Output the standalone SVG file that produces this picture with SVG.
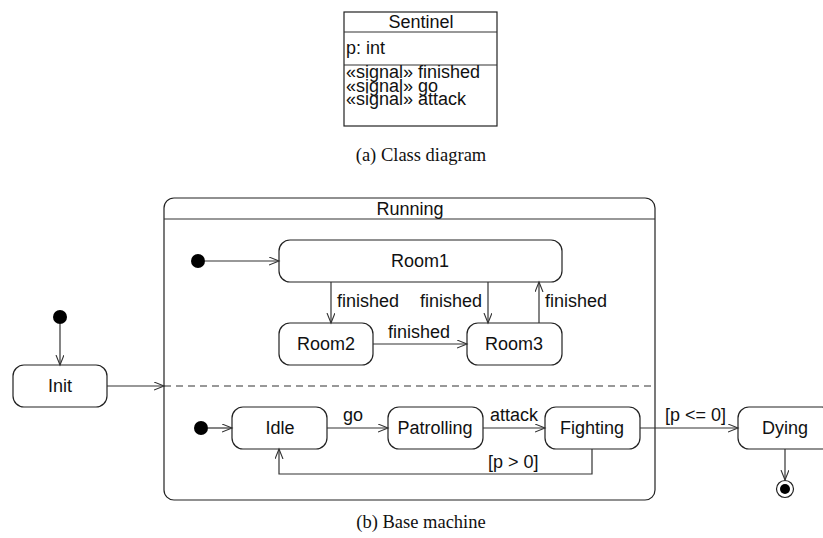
<svg xmlns="http://www.w3.org/2000/svg" width="823" height="538" viewBox="0 0 823 538">
  <style>
    .box { fill: #fff; stroke: #222; stroke-width: 1.2; }
    .line { fill: none; stroke: #333; stroke-width: 1.2; }
    .t { font-family: "Liberation Sans", Arial, sans-serif; font-size: 18px; fill: #111; }
    .mid { text-anchor: middle; }
    .end { text-anchor: end; }
    .cap { font-family: "Liberation Serif", "Times New Roman", serif; font-size: 18.5px; fill: #111; text-anchor: middle; }
    .dot { fill: #000; }
  </style>
  <defs>
    <marker id="open" markerWidth="12" markerHeight="10" refX="10" refY="4" orient="auto" markerUnits="userSpaceOnUse">
      <path d="M0,0 L10,4 L0,8" fill="none" stroke="#333" stroke-width="1.1"/>
    </marker>
  </defs>
  <rect width="823" height="538" fill="#fff"/>

  <!-- Class diagram -->
  <g id="sentinel">
    <rect class="box" x="344" y="12" width="153" height="114"/>
    <line class="line" x1="344" y1="32" x2="497" y2="32"/>
    <line class="line" x1="344" y1="65" x2="497" y2="65"/>
    <text class="t mid" x="421" y="28">Sentinel</text>
    <text class="t" x="346" y="54">p: int</text>
    <text class="t" x="346" y="78">«signal» finished</text>
    <text class="t" x="346" y="92">«signal» go</text>
    <text class="t" x="346" y="105">«signal» attack</text>
  </g>
  <text class="cap" x="421" y="161">(a) Class diagram</text>

  <!-- Composite state -->
  <g id="running">
    <rect class="box" x="164" y="198" width="491" height="302" rx="10"/>
    <line class="line" x1="164" y1="219" x2="655" y2="219"/>
    <line class="line" x1="164" y1="386" x2="655" y2="386" stroke-dasharray="7,5"/>
    <text class="t mid" x="410" y="215">Running</text>
  </g>

  <!-- Top region -->
  <g id="init1"><circle class="dot" cx="198" cy="261" r="7"/></g>
  <g id="room1">
    <rect class="box" x="279" y="240" width="283" height="42" rx="11"/>
    <text class="t mid" x="420" y="267">Room1</text>
  </g>
  <g id="room2">
    <rect class="box" x="279" y="323" width="94" height="42" rx="11"/>
    <text class="t mid" x="326" y="350">Room2</text>
  </g>
  <g id="room3">
    <rect class="box" x="467" y="323" width="95" height="42" rx="11"/>
    <text class="t mid" x="514" y="350">Room3</text>
  </g>

  <!-- Outer states -->
  <g id="init0"><circle class="dot" cx="60" cy="317" r="7"/></g>
  <g id="initState">
    <rect class="box" x="13" y="365" width="94" height="42" rx="11"/>
    <text class="t mid" x="60" y="392">Init</text>
  </g>

  <!-- Bottom region -->
  <g id="init2"><circle class="dot" cx="201" cy="428" r="7"/></g>
  <g id="idle">
    <rect class="box" x="232" y="407" width="95" height="42" rx="11"/>
    <text class="t mid" x="280" y="434">Idle</text>
  </g>
  <g id="patrolling">
    <rect class="box" x="388" y="407" width="95" height="42" rx="11"/>
    <text class="t mid" x="435" y="434">Patrolling</text>
  </g>
  <g id="fighting">
    <rect class="box" x="545" y="407" width="95" height="42" rx="11"/>
    <text class="t mid" x="592" y="434">Fighting</text>
  </g>
  <g id="dying">
    <rect class="box" x="738" y="407" width="95" height="42" rx="11"/>
    <text class="t mid" x="785" y="434">Dying</text>
  </g>
  <g id="final">
    <circle cx="785" cy="489" r="8.5" fill="#fff" stroke="#222" stroke-width="1.2"/>
    <circle class="dot" cx="785" cy="489" r="5"/>
  </g>

  <!-- Transitions -->
  <g id="connectors">
    <line class="line" x1="205" y1="261" x2="279" y2="261" marker-end="url(#open)"/>
    <line class="line" x1="331" y1="282" x2="331" y2="323" marker-end="url(#open)"/>
    <text class="t" x="337" y="307">finished</text>
    <line class="line" x1="488" y1="282" x2="488" y2="323" marker-end="url(#open)"/>
    <text class="t end" x="482" y="307">finished</text>
    <line class="line" x1="539" y1="323" x2="539" y2="282" marker-end="url(#open)"/>
    <text class="t" x="545" y="307">finished</text>
    <line class="line" x1="373" y1="344" x2="467" y2="344" marker-end="url(#open)"/>
    <text class="t" x="388" y="338">finished</text>

    <line class="line" x1="60" y1="324" x2="60" y2="365" marker-end="url(#open)"/>
    <line class="line" x1="107" y1="386" x2="164" y2="386" marker-end="url(#open)"/>

    <line class="line" x1="208" y1="428" x2="232" y2="428" marker-end="url(#open)"/>
    <line class="line" x1="327" y1="428" x2="388" y2="428" marker-end="url(#open)"/>
    <text class="t" x="343" y="421">go</text>
    <line class="line" x1="483" y1="428" x2="545" y2="428" marker-end="url(#open)"/>
    <text class="t" x="490" y="421">attack</text>
    <line class="line" x1="640" y1="428" x2="738" y2="428" marker-end="url(#open)"/>
    <text class="t" x="665" y="421">[p &lt;= 0]</text>
    <polyline class="line" points="592,449 592,474 279,474 279,449" marker-end="url(#open)"/>
    <text class="t" x="488" y="468">[p &gt; 0]</text>
    <line class="line" x1="785" y1="449" x2="785" y2="480" marker-end="url(#open)"/>
  </g>

  <text class="cap" x="421" y="528">(b) Base machine</text>
</svg>
